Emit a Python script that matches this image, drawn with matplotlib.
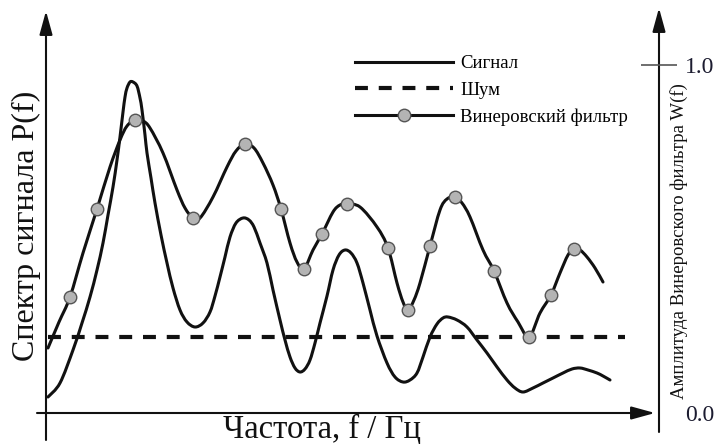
import matplotlib
matplotlib.use("Agg")
import matplotlib.pyplot as plt
from matplotlib.lines import Line2D
from matplotlib.patches import PathPatch
from matplotlib.path import Path
import numpy as np

plt.rcParams["font.family"] = ["Liberation Serif", "DejaVu Serif"]

# frequency (arbitrary units) and spectral level
signal_f = [2, 14, 27, 36, 44, 51, 57, 62, 67, 71, 74, 77, 79, 81, 84, 87, 91, 94, 96, 99,
            101, 105, 109, 115, 121, 127, 134, 141, 149, 157, 164, 169, 174, 179, 184, 190,
            197, 203, 208, 214, 221, 227, 234, 239, 244, 249, 254, 259, 264, 269, 274, 281,
            287, 293, 299, 305, 311, 317, 324, 331, 341, 349, 357, 364, 371, 377, 384, 391,
            397, 402, 411, 421, 431, 441, 451, 461, 469, 477, 487, 497, 507, 517, 526, 534,
            542, 551, 557, 564]
signal_p = [16, 30, 63, 90, 116, 143, 170, 198, 226, 253, 276, 301, 316, 325, 331, 331, 327,
            315, 303, 278, 260, 235, 210, 178, 150, 125, 103, 91, 86, 90, 101, 117, 136, 156,
            176, 190, 195, 193, 186, 170, 150, 123, 93, 73, 56, 45, 41, 44, 53, 70, 90, 117,
            143, 158, 163, 160, 150, 130, 103, 77, 50, 36, 31, 33, 40, 56, 76, 89, 95, 96, 93,
            86, 73, 60, 46, 33, 25, 21, 25, 30, 35, 40, 44, 45, 43, 40, 37, 33]

filter_f = [2, 13, 24, 37, 51, 64, 74, 81, 89, 97, 104, 117, 131, 139, 147, 154, 167, 181,
            190, 199, 208, 217, 227, 235, 244, 251, 258, 267, 276, 287, 294, 301, 314, 331,
            342, 351, 357, 362, 368, 374, 384, 394, 401, 409, 416, 424, 437, 448, 461, 472,
            483, 494, 505, 514, 522, 528, 534, 541, 549, 557]
filter_p = [65, 91, 116, 160, 204, 246, 273, 287, 293, 292, 285, 260, 223, 205, 195, 195, 216,
            246, 262, 269, 265, 250, 228, 204, 170, 151, 144, 163, 179, 201, 208, 209, 206,
            186, 165, 130, 111, 103, 113, 130, 167, 203, 214, 216, 210, 196, 163, 142, 110, 91,
            76, 100, 118, 140, 158, 164, 163, 156, 145, 131]
filter_marks = [2, 4, 8, 14, 19, 23, 26, 28, 31, 34, 37, 40, 43, 47, 50, 52, 55]

noise_f = [2, 579]
noise_p = [76, 76]

w_full = 348  # level that corresponds to W(f) = 1.0
w_ticks = [0.0, 1.0]
w_ticklabels = ["0.0", "1.0"]

labels = ["Сигнал", "Шум", "Винеровский фильтр"]

LINE_COLOR = "#111111"


def smooth_path(x, y):
    """Catmull-Rom curve through the read points, as cubic Bezier segments."""
    pts = np.column_stack([x, y]).astype(float)
    n = len(pts)
    verts = [pts[0]]
    codes = [Path.MOVETO]
    for i in range(n - 1):
        p0 = pts[max(i - 1, 0)]
        p3 = pts[min(i + 2, n - 1)]
        c1 = pts[i] + (pts[i + 1] - p0) / 6
        c2 = pts[i + 1] - (p3 - pts[i]) / 6
        verts += [c1, c2, pts[i + 1]]
        codes += [Path.CURVE4] * 3
    return Path(verts, codes)


fig = plt.figure(figsize=(7.17, 4.44), dpi=100)
ax = fig.add_axes([0, 0, 1, 1])
ax.set_xlim(-46, 671)
ax.set_ylim(-31, 413)
ax.set_axis_off()

ax.add_patch(PathPatch(smooth_path(signal_f, signal_p), facecolor="none",
                       edgecolor=LINE_COLOR, lw=2.2, capstyle="round", joinstyle="round"))
ax.plot(noise_f, noise_p, color=LINE_COLOR, lw=3, linestyle=(0, (3.1, 2.6)))
ax.add_patch(PathPatch(smooth_path(filter_f, filter_p), facecolor="none",
                       edgecolor=LINE_COLOR, lw=2.2, capstyle="round", joinstyle="round"))
marker_style = dict(marker="o", markersize=9, markerfacecolor="#b4b4b4",
                    markeredgecolor="#555555", markeredgewidth=1.0)
ax.plot(np.array(filter_f)[filter_marks], np.array(filter_p)[filter_marks],
        linestyle="none", zorder=3, **marker_style)

# axes drawn as arrows
arrow = dict(arrowstyle="-|>,head_length=0.8,head_width=0.22", color=LINE_COLOR, lw=1.5,
             mutation_scale=18, shrinkA=0, shrinkB=0)
ax.annotate("", xy=(0, 402), xytext=(0, -27), arrowprops=arrow)
ax.annotate("", xy=(609, 0), xytext=(-9, 0), arrowprops=arrow)
ax.annotate("", xy=(613, 405), xytext=(613, -19), arrowprops=arrow)

# right scale for the filter amplitude
ax2 = ax.twinx()
ax2.set_ylim(np.array(ax.get_ylim()) / w_full)
for s in ax2.spines.values():
    s.set_visible(False)
ax2.spines["right"].set_position(("data", 613))
ax2.set_yticks(w_ticks)
ax2.set_yticklabels(w_ticklabels)
ax2.tick_params(axis="y", direction="inout", length=26, width=1.2, color="#555555",
                pad=6, labelsize=17, labelcolor="#1c1c30")
ax2.yaxis.get_major_ticks()[0].tick2line.set_visible(False)
ax2.set_xticks([])

fig.text(26 / 717, 1 - 226 / 444, "Спектр сигнала P(f)", rotation=90, fontsize=23,
         ha="center", va="center", color=LINE_COLOR)
fig.text(322 / 717, 1 - 429 / 444, "Частота, f / Гц", fontsize=23.5,
         ha="center", va="center", color=LINE_COLOR)
fig.text(679 / 717, 1 - 241 / 444, "Амплитуда Винеровского фильтра W(f)", rotation=90,
         fontsize=13.5, ha="center", va="center", color=LINE_COLOR)

handles = [
    Line2D([], [], color=LINE_COLOR, lw=2.2),
    Line2D([], [], color=LINE_COLOR, lw=3, linestyle=(0, (3.1, 2.6))),
    Line2D([], [], color=LINE_COLOR, lw=2.2, **marker_style),
]
ax.legend(handles=handles, labels=labels, loc="upper left", frameon=False, fontsize=13.5,
          bbox_to_anchor=(355 / 717, 1 - 55 / 444), bbox_transform=fig.transFigure,
          borderpad=0, borderaxespad=0, handlelength=5.25, handletextpad=0.35,
          labelspacing=0.5, numpoints=1)

fig.savefig("out.png", dpi=100)
